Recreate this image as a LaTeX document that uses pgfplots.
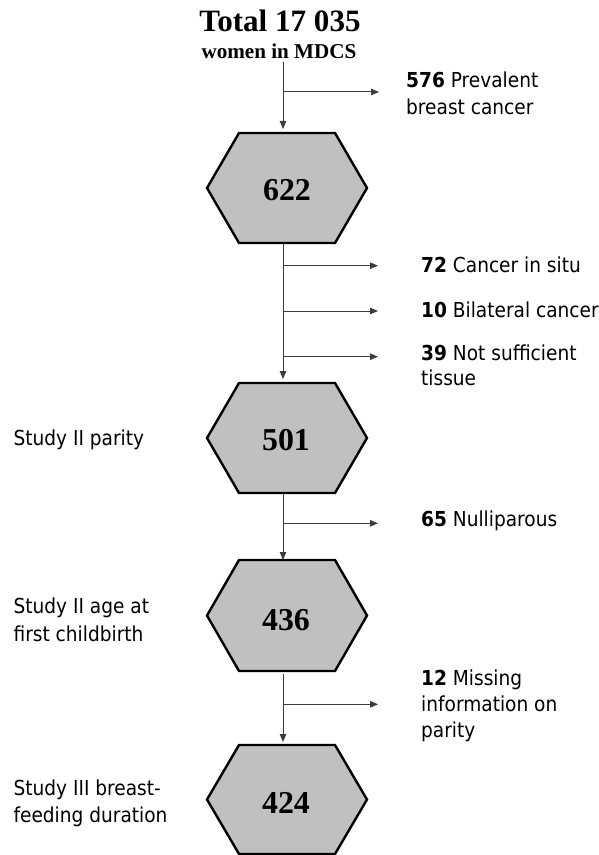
\documentclass[border=0pt]{standalone}
\usepackage{pgfplots}
\pgfplotsset{compat=1.18}
\usepackage{fontspec}
\setmainfont{Liberation Serif}
\newfontfamily\tah[FakeStretch=0.9]{DejaVu Sans}
\usetikzlibrary{arrows.meta}
\definecolor{hexfill}{RGB}{192,192,192}
\definecolor{conn}{RGB}{60,60,60}
\begin{document}
\begin{tikzpicture}
\begin{axis}[
  scale only axis, width=599bp, height=855bp,
  xmin=0, xmax=599, ymin=0, ymax=855, y dir=reverse,
  hide axis, clip=false,
]
% hexagons (center x 287, half width 80, top half 48, half height 55)
\addplot[fill=hexfill, draw=black, line width=2.4bp, line join=miter] coordinates {(239,133) (335,133) (367,188) (335,243) (239,243) (207,188)} -- cycle;
\addplot[fill=hexfill, draw=black, line width=2.4bp, line join=miter] coordinates {(239,383) (335,383) (367,438) (335,493) (239,493) (207,438)} -- cycle;
\addplot[fill=hexfill, draw=black, line width=2.4bp, line join=miter] coordinates {(239,560) (335,560) (367,615.5) (335,671) (239,671) (207,615.5)} -- cycle;
\addplot[fill=hexfill, draw=black, line width=2.4bp, line join=miter] coordinates {(239,745) (335,745) (367,799.5) (335,854) (239,854) (207,799.5)} -- cycle;
% connectors
\tikzset{cn/.style={conn, line width=1bp, -{Triangle[length=8bp,width=6.5bp]}}}
\addplot[cn] coordinates {(283,62) (283,129)};
\addplot[cn] coordinates {(283,92) (379,92)};
\addplot[cn] coordinates {(283,244) (283,379)};
\addplot[cn] coordinates {(283,265.7) (378,265.7)};
\addplot[cn] coordinates {(283,311) (378,311)};
\addplot[cn] coordinates {(283,356.7) (378,356.7)};
\addplot[cn] coordinates {(283,494) (283,560)};
\addplot[cn] coordinates {(283,523.3) (378,523.3)};
\addplot[cn] coordinates {(283,674) (283,742)};
\addplot[cn] coordinates {(283,704.3) (378,704.3)};
% title
\node[anchor=base, inner sep=0, font=\bfseries\fontsize{31.2}{34}\selectfont] at (axis cs:280,32) {Total 17 035};
\node[anchor=base, inner sep=0, font=\bfseries\fontsize{21.2}{24}\selectfont] at (axis cs:279,58.5) {women in MDCS};
% hexagon numbers
\node[anchor=base, inner sep=0, font=\bfseries\fontsize{32}{34}\selectfont] at (axis cs:287,201) {622};
\node[anchor=base, inner sep=0, font=\bfseries\fontsize{32}{34}\selectfont] at (axis cs:286,450.7) {501};
\node[anchor=base, inner sep=0, font=\bfseries\fontsize{32}{34}\selectfont] at (axis cs:286,630) {436};
\node[anchor=base, inner sep=0, font=\bfseries\fontsize{32}{34}\selectfont] at (axis cs:286,813) {424};
% right labels
\tikzset{rl/.style={anchor=base west, inner sep=0, font=\tah\fontsize{20.7}{24}\selectfont}}
\node[rl] at (axis cs:406,87.3) {\textbf{576} Prevalent};
\node[rl] at (axis cs:406,114.3) {breast cancer};
\node[rl] at (axis cs:421,272.3) {\textbf{72} Cancer in situ};
\node[rl] at (axis cs:421,317.7) {\textbf{10} Bilateral cancer};
\node[rl] at (axis cs:421,360) {\textbf{39} Not sufficient};
\node[rl] at (axis cs:421,385.7) {tissue};
\node[rl] at (axis cs:421,526.7) {\textbf{65} Nulliparous};
\node[rl] at (axis cs:421,685) {\textbf{12} Missing};
\node[rl] at (axis cs:421,711.5) {information on};
\node[rl] at (axis cs:421,737.5) {parity};
% left labels
\node[rl] at (axis cs:13.4,445) {Study II parity};
\node[rl] at (axis cs:13.4,613.3) {Study II age at};
\node[rl] at (axis cs:13.4,641.7) {first childbirth};
\node[rl] at (axis cs:13.4,795) {Study III breast-};
\node[rl] at (axis cs:13.4,822) {feeding duration};
\end{axis}
\pgfresetboundingbox
\useasboundingbox (0,0) rectangle (599bp,855bp);
\end{tikzpicture}
\end{document}
